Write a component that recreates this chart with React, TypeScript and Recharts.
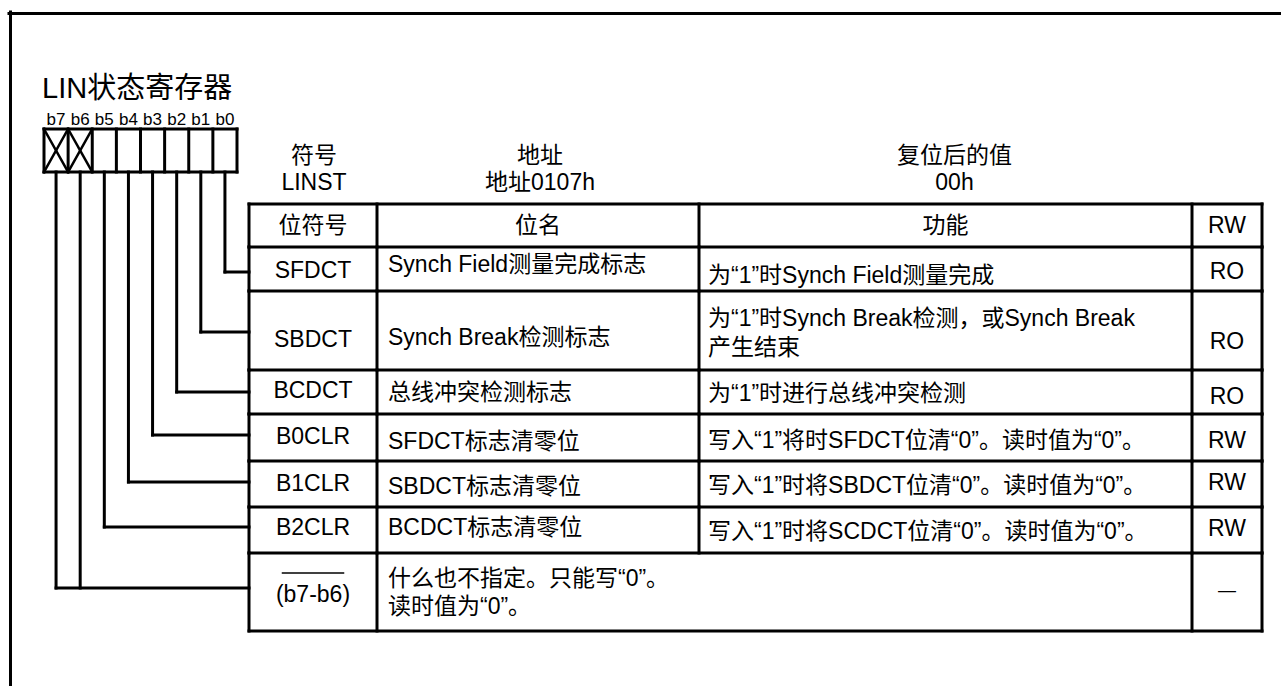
import React from 'react';
import { ComposedChart, XAxis, YAxis, ReferenceLine, Scatter } from 'recharts';

// ---------- data ----------
const registerTitle = 'LIN状态寄存器';
const bitLabels = ['b7', 'b6', 'b5', 'b4', 'b3', 'b2', 'b1', 'b0'];
const reservedBits = ['b7', 'b6'];
const infoCaptions = ['符号', '地址', '复位后的值'];
const infoValues = ['LINST', '地址0107h', '00h'];
const columnHeaders = ['位符号', '位名', '功能', 'RW'];
const bitSymbols = ['SFDCT', 'SBDCT', 'BCDCT', 'B0CLR', 'B1CLR', 'B2CLR', '(b7-b6)'];
const bitSources = [['b0'], ['b1'], ['b2'], ['b3'], ['b4'], ['b5'], ['b7', 'b6']];
const bitNames = [
  ['Synch Field测量完成标志'],
  ['Synch Break检测标志'],
  ['总线冲突检测标志'],
  ['SFDCT标志清零位'],
  ['SBDCT标志清零位'],
  ['BCDCT标志清零位'],
  ['什么也不指定。只能写“0”。', '读时值为“0”。'],
];
const bitFunctions = [
  ['为“1”时Synch Field测量完成'],
  ['为“1”时Synch Break检测，或Synch Break', '产生结束'],
  ['为“1”时进行总线冲突检测'],
  ['写入“1”将时SFDCT位清“0”。读时值为“0”。'],
  ['写入“1”时将SBDCT位清“0”。读时值为“0”。'],
  ['写入“1”时将SCDCT位清“0”。读时值为“0”。'],
  [],
];
const bitAccess = ['RO', 'RO', 'RO', 'RW', 'RW', 'RW', '—'];
const mergedRows = ['(b7-b6)'];
const overlinedSymbols = ['(b7-b6)'];

// ---------- layout ----------
const W = 1281;
const H = 686;
const FONT = "'Liberation Sans', Arial, 'Noto Sans CJK SC', sans-serif";
const colX = [249, 377, 699, 1192, 1262];
const tableTop = 204;
const rowHeights = [43, 44, 79, 44, 47, 46, 46, 78];
const rowY: number[] = [tableTop];
rowHeights.forEach((h) => rowY.push(rowY[rowY.length - 1] + h));
const boxLeft = 44;
const boxTop = 129;
const boxBottom = 172;
const cellW = 24.125;
const infoDx = [1, 2, 9];
const cellDy = [
  [1, -5, 6, 2],
  [8, 6, 2, 10],
  [-2, 0, 1, 4],
  [-1.5, 3.5, 2.5, 2.5],
  [-1, 2, 1, -2],
  [-3, -3, 1, -2],
  [2, 0, 0, -2],
];
const leadDy = [3, 1.5, 0, -2.5, -2, -3, -4];
const lineGap = 28.5;
const TXT = 23;

type Seg = { x1: number; y1: number; x2: number; y2: number; w: number };
type Lbl = { x: number; y: number; text: string; size: number; anchor: string; base: string };

const segs: Seg[] = [];
const lbls: Lbl[] = [];
const seg = (x1: number, y1: number, x2: number, y2: number, w = 3) => segs.push({ x1, y1, x2, y2, w });
const lbl = (x: number, y: number, text: string, size = TXT, anchor = 'middle', base = 'central') =>
  lbls.push({ x, y, text, size, anchor, base });

// outer frame
seg(9, 13.5, W, 13.5);
seg(10.5, 12, 10.5, H);

// title & bit labels
lbl(42, 98, registerTitle, 29, 'start', 'alphabetic');
const bitX = (b: string) => boxLeft + cellW * (bitLabels.indexOf(b) + 0.5);
bitLabels.forEach((b) => lbl(bitX(b), 125, b, 17, 'middle', 'alphabetic'));

// register box
const boxRight = boxLeft + cellW * bitLabels.length;
seg(boxLeft, boxTop, boxRight, boxTop);
seg(boxLeft, boxBottom, boxRight, boxBottom);
for (let i = 0; i <= bitLabels.length; i++) seg(boxLeft + cellW * i, boxTop, boxLeft + cellW * i, boxBottom);
reservedBits.forEach((b) => {
  const i = bitLabels.indexOf(b);
  const l = boxLeft + cellW * i;
  seg(l, boxTop, l + cellW, boxBottom, 2.5);
  seg(l + cellW, boxTop, l, boxBottom, 2.5);
});

// info header above table
const colCenter = (c: number) => (colX[c] + colX[c + 1]) / 2;
infoCaptions.forEach((t, i) => {
  lbl(colCenter(i) + infoDx[i], 155, t);
  lbl(colCenter(i) + infoDx[i], 182, infoValues[i]);
});

// table header
columnHeaders.forEach((t, c) => lbl(colCenter(c), (rowY[0] + rowY[1]) / 2 - 0.5, t));

// rows
bitSymbols.forEach((sym, r) => {
  const top = rowY[r + 1];
  const bot = rowY[r + 2];
  const mid = (top + bot) / 2;
  const dy = cellDy[r];
  const merged = mergedRows.includes(sym);
  lbl(colCenter(0), mid + dy[0], sym);
  if (overlinedSymbols.includes(sym)) seg(colCenter(0) - 30.5, mid - 19, colCenter(0) + 30.5, mid - 19, 1.5);
  const names = bitNames[r];
  names.forEach((t, k) => lbl(colX[1] + 11, mid + dy[1] + (k - (names.length - 1) / 2) * lineGap, t, TXT, 'start'));
  const fns = bitFunctions[r];
  fns.forEach((t, k) => lbl(colX[2] + 9, mid + dy[2] + (k - (fns.length - 1) / 2) * lineGap, t, TXT, 'start'));
  lbl(colCenter(3), mid + dy[3], bitAccess[r], sym === '(b7-b6)' ? 18 : TXT);

  // lead lines
  const ly = mid + leadDy[r];
  const xs = bitSources[r].map(bitX);
  xs.forEach((x) => seg(x, boxBottom, x, ly));
  seg(Math.min(...xs), ly, colX[0], ly);

  // row vertical borders
  colX.forEach((x, c) => {
    if (merged && c === 2) return;
    seg(x, top, x, bot);
  });
});
// header row verticals
colX.forEach((x) => seg(x, rowY[0], x, rowY[1]));
// horizontal borders
rowY.forEach((y) => seg(colX[0], y, colX[4], y));

const TextShape = (props: any) => {
  const { cx, cy, payload } = props;
  if (cx == null || cy == null) return null;
  return (
    <text
      x={cx}
      y={cy}
      textAnchor={payload.anchor}
      dominantBaseline={payload.base}
      fontSize={payload.size}
      fontFamily={FONT}
      fill="#000"
    >
      {payload.text}
    </text>
  );
};

export default function App() {
  return (
    <div style={{ position: 'fixed', left: 0, top: 0, width: W, height: H, background: '#fff' }}>
      <ComposedChart width={W} height={H} margin={{ top: 0, right: 0, bottom: 0, left: 0 }}>
        <XAxis type="number" dataKey="x" domain={[0, W]} hide allowDataOverflow />
        <YAxis type="number" dataKey="y" domain={[0, H]} reversed hide allowDataOverflow />
        {segs.map((s, i) => (
          <ReferenceLine
            key={i}
            segment={[
              { x: s.x1, y: s.y1 },
              { x: s.x2, y: s.y2 },
            ]}
            stroke="#000"
            strokeWidth={s.w}
            strokeLinecap="square"
            ifOverflow="visible"
          />
        ))}
        <Scatter data={lbls} shape={TextShape} isAnimationActive={false} />
      </ComposedChart>
    </div>
  );
}
